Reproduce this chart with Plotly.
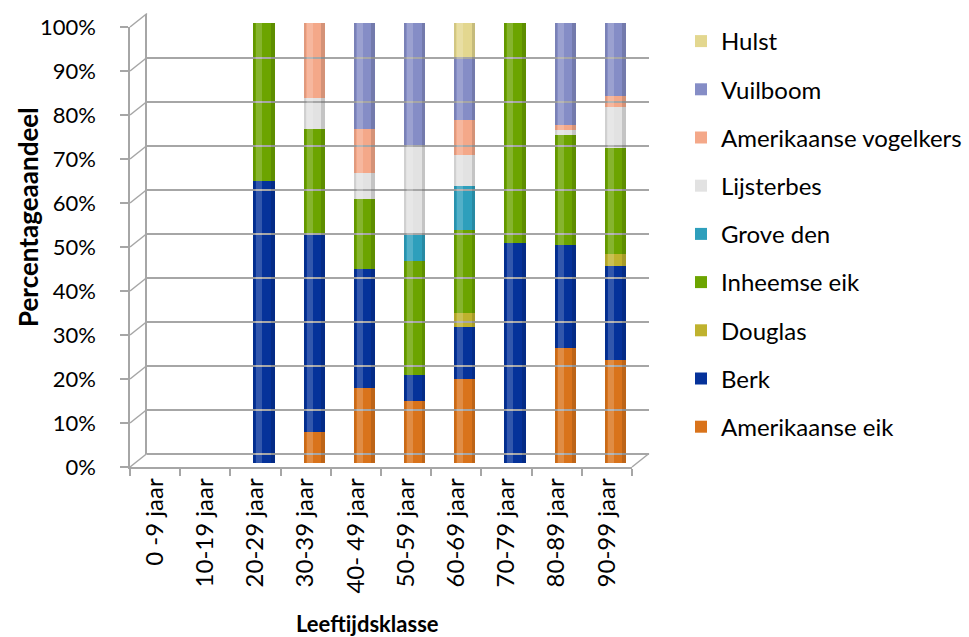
import plotly.graph_objects as go

# ---------------- data ----------------
categories = ["0 -9 jaar", "10-19 jaar", "20-29 jaar", "30-39 jaar", "40- 49 jaar",
              "50-59 jaar", "60-69 jaar", "70-79 jaar", "80-89 jaar", "90-99 jaar"]

amerikaanse_eik = [None, None, 0, 7, 17, 14, 19, 0, 26.2, 23.5]
berk = [None, None, 64, 45, 27, 6, 12, 50, 23.3, 21.2]
douglas = [None, None, 0, 0, 0, 0, 3, 0, 0, 2.8]
inheemse_eik = [None, None, 36, 24, 16, 26, 19, 50, 25, 24.1]
grove_den = [None, None, 0, 0, 0, 6, 10, 0, 0, 0]
lijsterbes = [None, None, 0, 7, 6, 20, 7, 0, 1.2, 9.4]
amerikaanse_vogelkers = [None, None, 0, 17, 10, 0, 8, 0, 1.1, 2.3]
vuilboom = [None, None, 0, 0, 24, 28, 14, 0, 23.2, 16.7]
hulst = [None, None, 0, 0, 0, 0, 8, 0, 0, 0]

series_names = ["Amerikaanse eik", "Berk", "Douglas", "Inheemse eik", "Grove den",
                "Lijsterbes", "Amerikaanse vogelkers", "Vuilboom", "Hulst"]
series_values = [amerikaanse_eik, berk, douglas, inheemse_eik, grove_den,
                 lijsterbes, amerikaanse_vogelkers, vuilboom, hulst]
series_colors = ["#D9731B", "#05329A", "#BFB22E", "#6CA400", "#2E9FBC",
                 "#E2E2E2", "#F4A889", "#858DC6", "#E3D78F"]

y_ticks = list(range(0, 101, 10))
y_tick_labels = [f"{v}%" for v in y_ticks]

# column totals (for cylinder shading overlays)
totals = []
for i in range(len(categories)):
    col = [s[i] for s in series_values if s[i] is not None]
    totals.append(sum(col) if col else None)

# ---------------- geometry (pixels) ----------------
W, H = 969, 637
FX0, FX1 = 130, 632      # front plane x extent
FY0, FY1 = 467, 27       # front plane y for 0% and 100%
DX, DY = 17, -13.5       # depth offset to back wall
BX, BY = 8.5, -4         # offset of the columns (mid depth, front edge)


def px(x):
    return x / W


def py(y):
    return 1 - y / H


FONT = "Lato"
GRID = "#A6A6A6"
BAR_W = 0.42

fig = go.Figure()

n = len(series_names)
for i, (name, vals, col) in enumerate(zip(series_names, series_values, series_colors)):
    fig.add_trace(go.Bar(
        x=categories, y=vals, name=name, legendgroup=name, legendrank=n - i,
        marker=dict(color=col, line=dict(width=0)),
        width=BAR_W, xaxis="x2", yaxis="y2",
    ))

# cylinder shading: light highlight left of centre, darker edges
fig.add_trace(go.Bar(x=categories, y=totals, width=0.12, offset=-0.15,
                     marker=dict(color="rgba(255,255,255,0.18)", line=dict(width=0)),
                     xaxis="x4", yaxis="y4", showlegend=False, hoverinfo="skip"))
fig.add_trace(go.Bar(x=categories, y=totals, width=0.07, offset=BAR_W / 2 - 0.07,
                     marker=dict(color="rgba(0,0,0,0.13)", line=dict(width=0)),
                     xaxis="x5", yaxis="y5", showlegend=False, hoverinfo="skip"))
fig.add_trace(go.Bar(x=categories, y=totals, width=0.04, offset=-BAR_W / 2,
                     marker=dict(color="rgba(0,0,0,0.08)", line=dict(width=0)),
                     xaxis="x6", yaxis="y6", showlegend=False, hoverinfo="skip"))

# invisible trace to create the back-wall subplot
fig.add_trace(go.Scatter(x=[None], y=[None], xaxis="x3", yaxis="y3",
                         showlegend=False, hoverinfo="skip"))
# invisible trace on front axes
fig.add_trace(go.Scatter(x=categories, y=[None] * len(categories), xaxis="x", yaxis="y",
                         showlegend=False, hoverinfo="skip", mode="markers"))

bar_x_dom = [px(FX0 + BX), px(FX1 + BX)]
bar_y_dom = [py(FY0 + BY), py(FY1 + BY)]


def bar_axes(k):
    return {
        f"xaxis{k}": dict(domain=bar_x_dom, type="category", categoryarray=categories,
                          range=[-0.5, 9.5], visible=False, anchor=f"y{k}",
                          fixedrange=True, automargin=False),
        f"yaxis{k}": dict(domain=bar_y_dom, range=[0, 100], visible=False,
                          anchor=f"x{k}", fixedrange=True, automargin=False),
    }


fig.update_layout(
    width=W, height=H,
    margin=dict(l=0, r=0, t=0, b=0, autoexpand=False),
    paper_bgcolor="white", plot_bgcolor="rgba(0,0,0,0)",
    barmode="stack",
    font=dict(family=FONT, color="#000000", size=20),
    showlegend=True,
    legend=dict(
        x=px(681), y=py(19), xanchor="left", yanchor="top",
        traceorder="grouped", tracegroupgap=14,
        font=dict(size=24, family=FONT, color="#000"),
        bgcolor="rgba(0,0,0,0)", itemclick=False,
    ),
    # front axes
    xaxis=dict(
        domain=[px(FX0), px(FX1)], type="category", categoryarray=categories,
        range=[-0.5, 9.5], showgrid=False, zeroline=False,
        showline=True, linecolor=GRID, linewidth=1.5,
        ticks="outside", ticklen=7, tickcolor=GRID, tickwidth=1.5,
        tickson="boundaries", tickangle=-90,
        tickfont=dict(size=24, family=FONT, color="#000"),
        anchor="y", fixedrange=True, automargin=False,
    ),
    yaxis=dict(
        domain=[py(FY0), py(FY1)], range=[0, 100], showgrid=False, zeroline=False,
        showline=True, linecolor=GRID, linewidth=1.5,
        ticks="outside", ticklen=8, tickcolor=GRID, tickwidth=1.5,
        tickvals=y_ticks, ticktext=y_tick_labels, ticklabelstandoff=20,
        tickfont=dict(size=22, family=FONT, color="#000"),
        anchor="x", fixedrange=True, automargin=False,
    ),
    # back wall
    xaxis3=dict(
        domain=[px(FX0 + DX), px(FX1 + DX)], range=[-0.5, 9.5], visible=False,
        anchor="y3", fixedrange=True, automargin=False,
    ),
    yaxis3=dict(
        domain=[py(FY0 + DY), py(FY1 + DY)], range=[0, 100],
        showgrid=True, gridcolor=GRID, gridwidth=1.5,
        zeroline=True, zerolinecolor=GRID, zerolinewidth=1.5,
        showline=True, linecolor=GRID, linewidth=1.5,
        tickvals=y_ticks, showticklabels=False, ticks="",
        anchor="x3", fixedrange=True, automargin=False,
    ),
    **bar_axes(2), **bar_axes(4), **bar_axes(5), **bar_axes(6),
)

# depth connectors (left wall) and floor right edge
shapes = []
for v in y_ticks:
    yf = FY0 + (FY1 - FY0) * v / 100
    shapes.append(dict(type="line", xref="paper", yref="paper",
                       x0=px(FX0), y0=py(yf), x1=px(FX0 + DX), y1=py(yf + DY),
                       line=dict(color=GRID, width=1.5), layer="below"))
shapes.append(dict(type="line", xref="paper", yref="paper",
                   x0=px(FX1), y0=py(FY0), x1=px(FX1 + DX), y1=py(FY0 + DY),
                   line=dict(color=GRID, width=1.5), layer="below"))
fig.update_layout(shapes=shapes)

fig.add_annotation(text="<b>Percentageaandeel</b>", xref="paper", yref="paper",
                   x=px(28), y=py(217), textangle=-90, showarrow=False,
                   font=dict(size=26, family=FONT, color="#000"),
                   xanchor="center", yanchor="middle")
fig.add_annotation(text="<b>Leeftijdsklasse</b>", xref="paper", yref="paper",
                   x=px(367), y=py(623), showarrow=False,
                   font=dict(size=22, family=FONT, color="#000"),
                   xanchor="center", yanchor="middle")

fig.write_html("out.html")
